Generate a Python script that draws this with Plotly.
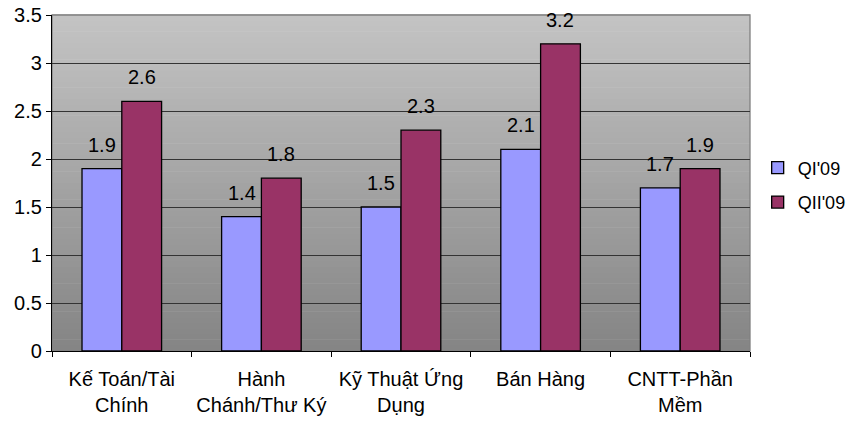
import plotly.graph_objects as go

categories = ["Kế Toán/Tài<br>Chính", "Hành<br>Chánh/Thư Ký", "Kỹ Thuật Ứng<br>Dụng", "Bán Hàng", "CNTT-Phần<br>Mềm"]
series_names = ["QI'09", "QII'09"]
q1_values = [1.9, 1.4, 1.5, 2.1, 1.7]
q2_values = [2.6, 1.8, 2.3, 3.2, 1.9]
colors = ["#9999FF", "#993366"]

FONT = "Liberation Sans, Arial, sans-serif"
FS = 20
W, H = 848, 423
ML, MR, MT, MB = 52, 98, 15, 72
BARGAP = 0.43

fig = go.Figure()
for i, (name, vals) in enumerate(zip(series_names, [q1_values, q2_values])):
    fig.add_trace(go.Bar(
        x=categories, y=vals, name=name, legendgroup=name,
        marker=dict(color=colors[i], line=dict(color="black", width=1.3)),
    ))

# data labels
plot_w = W - ML - MR
bar_w = plot_w / len(categories) * (1 - BARGAP) / 2
annotations = []
for i, vals in enumerate([q1_values, q2_values]):
    shift = (i - 0.5) * bar_w
    for c, v in zip(categories, vals):
        annotations.append(dict(x=c, y=v, text=str(v), showarrow=False, xref="x", yref="y",
                                xshift=shift, yshift=11, yanchor="bottom",
                                font=dict(family=FONT, size=FS, color="black")))

# gradient background
shapes = []
N = 60
top = (0xC4, 0xC4, 0xC4)
bot = (0x84, 0x84, 0x84)
for k in range(N):
    t = (k + 0.5) / N
    col = tuple(round(bot[j] + (top[j] - bot[j]) * t) for j in range(3))
    shapes.append(dict(type="rect", xref="paper", yref="paper", x0=0, x1=1,
                       y0=k / N, y1=(k + 1) / N + 0.002, layer="below",
                       line=dict(width=0), fillcolor="rgb(%d,%d,%d)" % col))
shapes.append(dict(type="rect", xref="paper", yref="paper", x0=0, x1=1, y0=0, y1=1,
                   layer="below", line=dict(color="#808080", width=1.3)))

fig.update_layout(
    width=W, height=H,
    margin=dict(l=ML, r=MR, t=MT, b=MB, pad=0, autoexpand=False),
    paper_bgcolor="white", plot_bgcolor="rgba(0,0,0,0)",
    font=dict(family=FONT, size=FS, color="black"),
    barmode="group", bargap=BARGAP, bargroupgap=0,
    showlegend=True,
    legend=dict(x=1.011, xanchor="left", y=0.494, yanchor="middle",
                font=dict(family=FONT, size=18, color="black"),
                tracegroupgap=8, bgcolor="rgba(0,0,0,0)"),
    shapes=shapes, annotations=annotations,
)
fig.update_xaxes(showline=True, linecolor="black", linewidth=1.3, automargin=False,
                 ticks="outside", tickson="boundaries", ticklen=5, tickcolor="black",
                 ticklabelstandoff=10,
                 showgrid=False, tickfont=dict(family=FONT, size=FS))
fig.update_yaxes(range=[0, 3.5], dtick=0.5, showline=True, linecolor="black", linewidth=1.3,
                 automargin=False,
                 ticks="outside", ticklen=5, tickcolor="black",
                 showgrid=True, gridcolor="#333333", gridwidth=1.2,
                 zeroline=False, tickfont=dict(family=FONT, size=FS))

fig.write_html("out.html", config={"displayModeBar": False},
               post_script="document.body.style.margin='0';")
